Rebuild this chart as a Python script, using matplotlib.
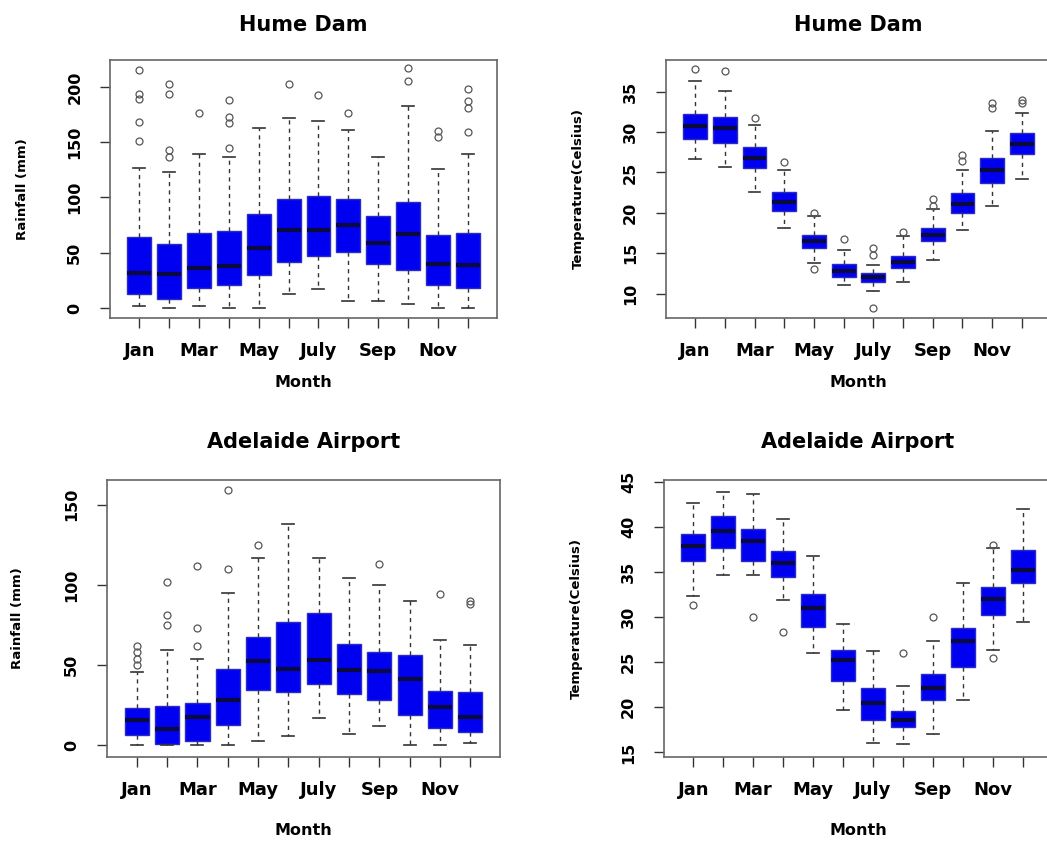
import matplotlib
matplotlib.use("Agg")
import matplotlib.pyplot as plt

plt.rcParams['font.family'] = ['DejaVu Sans']

months = ['Jan', 'Feb', 'Mar', 'Apr', 'May', 'Jun',
          'July', 'Aug', 'Sep', 'Oct', 'Nov', 'Dec']
month_ticks = ['Jan', '', 'Mar', '', 'May', '', 'July', '', 'Sep', '', 'Nov', '']

# Hume Dam rainfall (mm)
hume_rain_lo = [2, 0, 2, 0, 0, 13, 17, 6, 6, 4, 0, 0]
hume_rain_q1 = [13, 8, 18, 21, 30, 42, 47, 51, 40, 34, 21, 18]
hume_rain_med = [32, 31, 36, 38, 54, 71, 71, 75, 59, 67, 40, 39]
hume_rain_q3 = [64, 58, 68, 70, 85, 99, 101, 99, 83, 96, 66, 68]
hume_rain_hi = [127, 123, 139, 137, 163, 172, 169, 161, 137, 183, 126, 139]
hume_rain_out = [[151, 168, 189, 194, 215], [137, 143, 194, 203], [176],
                 [145, 167, 173, 188], [], [203], [193], [176], [],
                 [205, 217], [155, 160], [159, 181, 187, 198]]

# Hume Dam temperature (Celsius)
hume_temp_lo = [26.6, 25.7, 22.6, 18.1, 13.8, 11.1, 10.3, 11.5, 14.2, 17.9, 20.8, 24.2]
hume_temp_q1 = [29.1, 28.6, 25.6, 20.2, 15.6, 12.1, 11.4, 13.2, 16.5, 20.0, 23.7, 27.3]
hume_temp_med = [30.7, 30.5, 26.8, 21.4, 16.5, 12.8, 12.1, 13.9, 17.3, 21.1, 25.3, 28.5]
hume_temp_q3 = [32.2, 31.8, 28.1, 22.6, 17.3, 13.7, 12.6, 14.7, 18.1, 22.4, 26.8, 29.9]
hume_temp_hi = [36.3, 35.1, 30.8, 25.3, 19.6, 15.4, 13.6, 17.1, 20.5, 25.3, 30.1, 32.3]
hume_temp_out = [[37.8], [37.5], [31.7], [26.3], [13.0, 20.0], [16.8],
                 [8.2, 14.8, 15.6], [17.6], [20.8, 21.7], [26.4, 27.2],
                 [32.9, 33.6], [33.6, 34.0]]

# Adelaide Airport rainfall (mm)
adel_rain_lo = [0, 0, 0, 0, 2.7, 5.9, 16.8, 6.9, 12.0, 0, 0, 1]
adel_rain_q1 = [6.3, 0.6, 2.5, 12.6, 34.6, 32.9, 38.2, 31.9, 28.3, 18.9, 10.9, 8.4]
adel_rain_med = [15.7, 10.1, 17.2, 28.3, 52.4, 47.2, 52.9, 46.6, 46.2, 40.9, 23.5, 17.2]
adel_rain_q3 = [23.1, 24.5, 26.2, 47.2, 67.5, 77.0, 82.2, 62.9, 58.3, 56.0, 33.6, 32.9]
adel_rain_hi = [45.7, 59.2, 53.5, 94.8, 116.8, 138.0, 116.8, 104.3, 99.6, 90.2, 65.5, 62.5]
adel_rain_out = [[50, 54, 58, 62], [75, 81, 102], [62, 73, 112], [110, 159],
                 [125], [], [], [], [113], [], [94], [88, 90]]

# Adelaide Airport temperature (Celsius)
adel_temp_lo = [32.3, 34.7, 34.7, 31.9, 26.0, 19.7, 16.1, 15.9, 17.0, 20.8, 26.4, 29.5]
adel_temp_q1 = [36.2, 37.7, 36.2, 34.5, 28.9, 22.9, 18.6, 17.8, 20.8, 24.5, 30.2, 33.8]
adel_temp_med = [37.9, 39.5, 38.4, 36.0, 31.0, 25.3, 20.5, 18.6, 22.2, 27.3, 32.0, 35.2]
adel_temp_q3 = [39.2, 41.2, 39.8, 37.3, 32.6, 26.4, 22.1, 19.6, 23.7, 28.8, 33.3, 37.4]
adel_temp_hi = [42.6, 43.9, 43.6, 40.9, 36.8, 29.2, 26.2, 22.4, 27.3, 33.8, 37.7, 42.0]
adel_temp_out = [[31.3], [], [30.0], [28.4], [], [], [], [26.0], [30.0], [],
                 [25.5, 38.0], []]


def make_stats(lo, q1, med, q3, hi, out):
    stats = []
    for i in range(len(months)):
        stats.append({'label': months[i], 'whislo': lo[i], 'q1': q1[i],
                      'med': med[i], 'q3': q3[i], 'whishi': hi[i],
                      'fliers': out[i]})
    return stats


def draw_panel(rect, stats, title, ylabel, ylim, yticks, title_pad, label_off):
    ax = fig.add_axes(rect)
    ax.bxp(stats, positions=range(1, 13), widths=0.8, capwidths=0.4,
           patch_artist=True,
           boxprops=dict(facecolor='#0000f0', edgecolor='#2a2ac8', linewidth=1),
           medianprops=dict(color='#0a0a40', linewidth=3, solid_capstyle='butt'),
           whiskerprops=dict(color='#333333', linewidth=1, linestyle=(0, (3, 3))),
           capprops=dict(color='#333333', linewidth=1.2),
           flierprops=dict(marker='o', markersize=5, markerfacecolor='none',
                           markeredgecolor='#555555', markeredgewidth=0.9))
    ax.set_xlim(0.02, 12.98)
    ax.set_ylim(*ylim)
    ax.set_xticks(range(1, 13))
    ax.set_xticklabels(month_ticks, fontsize=13, fontweight='bold')
    ax.set_yticks(yticks)
    ax.set_yticklabels([str(v) for v in yticks], fontsize=11.5,
                       fontweight='bold', rotation=90, va='center')
    ax.tick_params(axis='x', length=7, width=1, pad=10, color='#333333')
    ax.tick_params(axis='y', length=7, width=1, pad=13, color='#333333')
    for s in ax.spines.values():
        s.set_color('#666666')
        s.set_linewidth(1.2)
    ax.set_title(title, fontsize=15, fontweight='bold', pad=title_pad)
    ax.set_xlabel('Month', fontsize=11.5, fontweight='bold')
    ax.xaxis.set_label_coords(0.5, label_off)
    ax.set_ylabel(ylabel, fontsize=9.5, fontweight='bold')
    ax.yaxis.set_label_coords(-0.21, 0.5)
    return ax


fig = plt.figure(figsize=(10.47, 8.41), dpi=100)

draw_panel([0.1051, 0.6219, 0.3696, 0.3068],
           make_stats(hume_rain_lo, hume_rain_q1, hume_rain_med,
                      hume_rain_q3, hume_rain_hi, hume_rain_out),
           'Hume Dam', 'Rainfall (mm)', (-9, 224.4), [0, 50, 100, 150, 200],
           21, -0.221)

draw_panel([0.6361, 0.6219, 0.3677, 0.3068],
           make_stats(hume_temp_lo, hume_temp_q1, hume_temp_med,
                      hume_temp_q3, hume_temp_hi, hume_temp_out),
           'Hume Dam', 'Temperature(Celsius)', (7.0, 38.9), [10, 15, 20, 25, 30, 35],
           21, -0.221)

draw_panel([0.1022, 0.0999, 0.3754, 0.3294],
           make_stats(adel_rain_lo, adel_rain_q1, adel_rain_med,
                      adel_rain_q3, adel_rain_hi, adel_rain_out),
           'Adelaide Airport', 'Rainfall (mm)', (-7.5, 165.5), [0, 50, 100, 150],
           23, -0.238)

draw_panel([0.6342, 0.0999, 0.3706, 0.3294],
           make_stats(adel_temp_lo, adel_temp_q1, adel_temp_med,
                      adel_temp_q3, adel_temp_hi, adel_temp_out),
           'Adelaide Airport', 'Temperature(Celsius)', (14.5, 45.2),
           [15, 20, 25, 30, 35, 40, 45], 23, -0.238)

fig.savefig('out.png', dpi=100, facecolor='white')
